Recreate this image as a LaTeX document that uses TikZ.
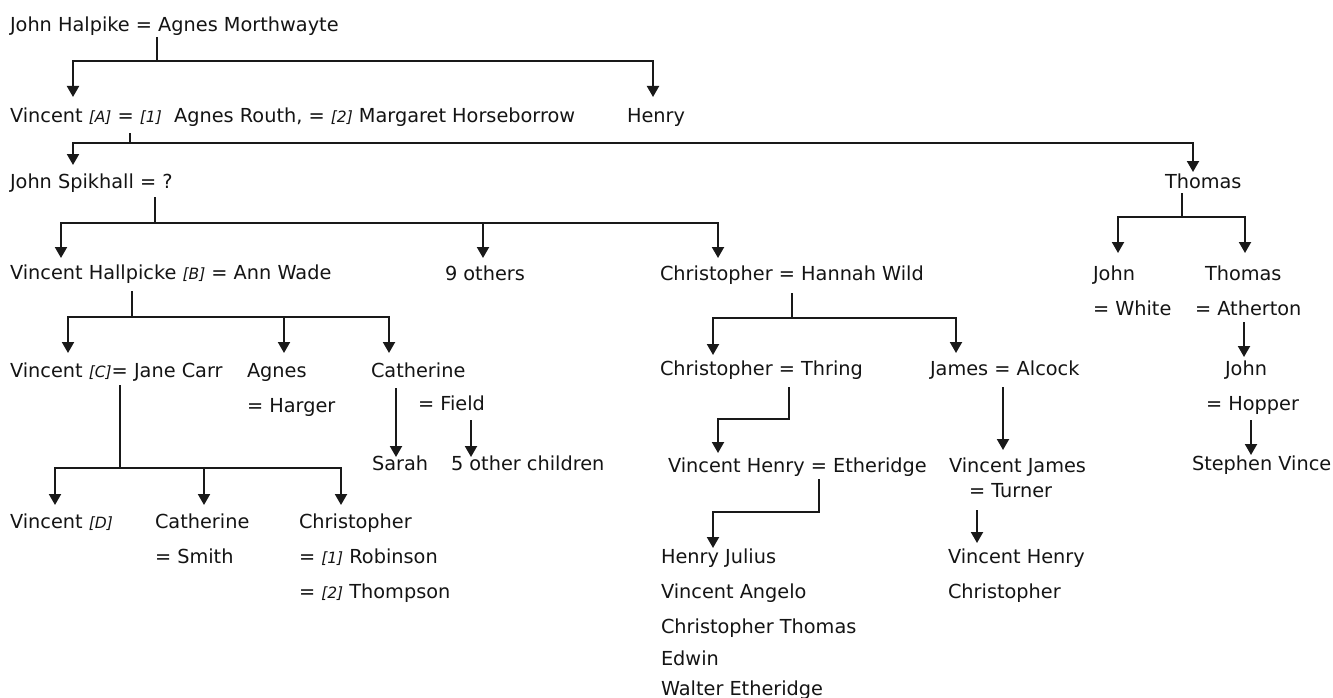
\documentclass[tikz,border=0pt]{standalone}
\usepackage{fontspec}
\setmainfont{DejaVu Sans}
\usetikzlibrary{arrows.meta,calc}
\newcommand{\bk}[1]{{\fontsize{15.5bp}{15.5bp}\selectfont\itshape #1}}
\begin{document}
\begin{tikzpicture}[x=1bp,y=-1bp,
  lbl/.style={anchor=base west,inner sep=0pt,outer sep=0pt,font=\fontsize{19.3bp}{23bp}\selectfont,text=black!92},
  conn/.style={line width=2bp,draw=black!90},
  arr/.style={conn,-{Triangle[width=12bp,length=11bp]}}]
\fill[white] (0,0) rectangle (1333,697);
\useasboundingbox (0,0) rectangle (1333,697);
% nodes
\node[lbl] (jh) at (10,32) {John Halpike = Agnes Morthwayte};
\node[lbl] (vA) at (10,123) {Vincent \bk{[A]} = \bk{[1]}\ \ Agnes Routh, = \bk{[2]} Margaret Horseborrow};
\node[lbl] (henry) at (627,123) {Henry};
\node[lbl] (js) at (10,188) {John Spikhall = ?};
\node[lbl] (thomas) at (1165,188) {Thomas};
\node[lbl] (vB) at (10,279) {Vincent Hallpicke \bk{[B]} = Ann Wade};
\node[lbl] (nine) at (445,280) {9 others};
\node[lbl] (chw) at (660,280) {Christopher = Hannah Wild};
\node[lbl] (john2) at (1093,280) {John};
\node[lbl] (white) at (1093,315) {= White};
\node[lbl] (thomas2) at (1205,280) {Thomas};
\node[lbl] (atherton) at (1195,315) {= Atherton};
\node[lbl] (vC) at (10,377) {Vincent \bk{[C]}= Jane Carr};
\node[lbl] (agnes) at (247,377) {Agnes};
\node[lbl] (harger) at (247,412) {= Harger};
\node[lbl] (cath) at (371,377) {Catherine};
\node[lbl] (field) at (418,410) {= Field};
\node[lbl] (sarah) at (372,470) {Sarah};
\node[lbl] (five) at (451,470) {5 other children};
\node[lbl] (ct) at (660,375) {Christopher = Thring};
\node[lbl] (ja) at (930,375) {James = Alcock};
\node[lbl] (john3) at (1225,375) {John};
\node[lbl] (hopper) at (1206,410) {= Hopper};
\node[lbl] (sv) at (1192,470) {Stephen Vince};
\node[lbl] (vhe) at (668,472) {Vincent Henry = Etheridge};
\node[lbl] (vj) at (949,472) {Vincent James};
\node[lbl] (turner) at (969,497) {= Turner};
\node[lbl] (vD) at (10,528) {Vincent \bk{[D]}};
\node[lbl] (cath2) at (155,528) {Catherine};
\node[lbl] (smith) at (155,563) {= Smith};
\node[lbl] (chris) at (299,528) {Christopher};
\node[lbl] (rob) at (299,563) {= \bk{[1]} Robinson};
\node[lbl] (thom) at (299,598) {= \bk{[2]} Thompson};
\node[lbl] (hj) at (661,563) {Henry Julius};
\node[lbl] (va) at (661,598) {Vincent Angelo};
\node[lbl] (cthom) at (661,633) {Christopher Thomas};
\node[lbl] (edwin) at (661,665) {Edwin};
\node[lbl] (walter) at (661,695) {Walter Etheridge};
\node[lbl] (vh2) at (948,563) {Vincent Henry};
\node[lbl] (chris3) at (948,598) {Christopher};
% connectors
\draw[conn] ($(jh.base west)+(147,5)$) -- ++(0,24) coordinate (b1);
\draw[arr] (b1) -| ($(vA.base west)+(63,-26)$);
\draw[arr] (b1) -| ($(henry.base west)+(26,-26)$);
\draw[conn] ($(vA.base west)+(120,10)$) -- ++(0,10) coordinate (b2);
\draw[arr] (b2) -| ($(js.base west)+(63,-23)$);
\draw[arr] (b2) -| ($(thomas.base west)+(28,-16)$);
\draw[conn] ($(js.base west)+(145,9)$) -- ++(0,26) coordinate (b3);
\draw[arr] (b3) -| ($(vB.base west)+(51,-21)$);
\draw[arr] (b3) -| ($(nine.base west)+(38,-22)$);
\draw[arr] (b3) -| ($(chw.base west)+(58,-22)$);
\draw[conn] ($(thomas.base west)+(17,5)$) -- ++(0,24) coordinate (b4);
\draw[arr] (b4) -| ($(john2.base west)+(25,-27)$);
\draw[arr] (b4) -| ($(thomas2.base west)+(40,-27)$);
\draw[conn] ($(vB.base west)+(122,12)$) -- ++(0,26) coordinate (b5);
\draw[arr] (b5) -| ($(vC.base west)+(58,-24)$);
\draw[arr] (b5) -| ($(agnes.base west)+(37,-24)$);
\draw[arr] (b5) -| ($(cath.base west)+(18,-24)$);
\draw[conn] ($(vC.base west)+(110,8)$) -- ++(0,83) coordinate (b6);
\draw[arr] (b6) -| ($(vD.base west)+(45,-23)$);
\draw[arr] (b6) -| ($(cath2.base west)+(49,-23)$);
\draw[arr] (b6) -| ($(chris.base west)+(42,-23)$);
\draw[arr] ($(cath.base west)+(25,11)$) -- ($(sarah.base west)+(24,-13)$);
\draw[arr] ($(field.base west)+(53,10)$) -- ($(five.base west)+(20,-13)$);
\draw[conn] ($(chw.base west)+(132,13)$) -- ++(0,25) coordinate (b9);
\draw[arr] (b9) -| ($(ct.base west)+(53,-20)$);
\draw[arr] (b9) -| ($(ja.base west)+(26,-22)$);
\draw[arr] ($(ct.base west)+(129,12)$) -- ++(0,32) -| ($(vhe.base west)+(50,-19)$);
\draw[arr] ($(ja.base west)+(73,12)$) -- ($(vj.base west)+(54,-22)$);
\draw[arr] ($(vhe.base west)+(151,7)$) -- ++(0,33) -| ($(hj.base west)+(52,-15)$);
\draw[arr] ($(turner.base west)+(8,13)$) -- ($(vh2.base west)+(29,-20)$);
\draw[arr] ($(atherton.base west)+(49,7)$) -- ($(john3.base west)+(19,-18)$);
\draw[arr] ($(hopper.base west)+(45,10)$) -- ($(sv.base west)+(59,-15)$);
\end{tikzpicture}
\end{document}
